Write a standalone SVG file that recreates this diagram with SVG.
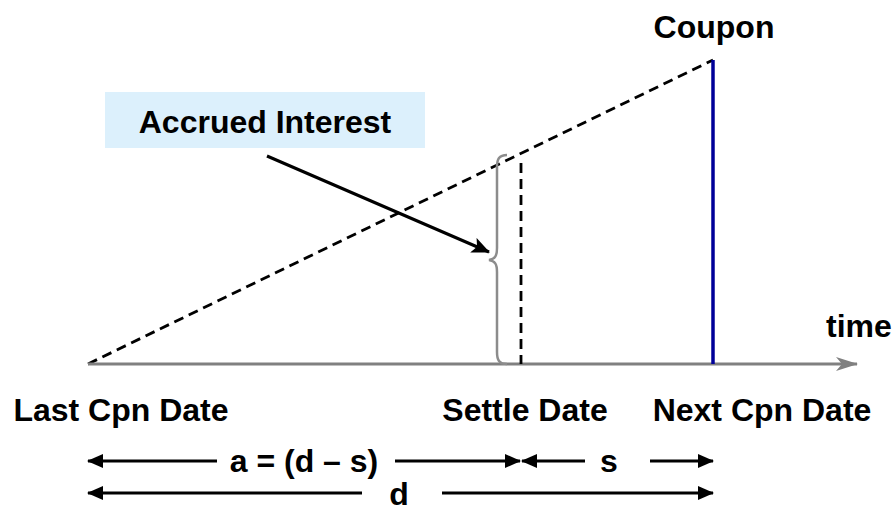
<svg xmlns="http://www.w3.org/2000/svg" width="894" height="517" viewBox="0 0 894 517">
  <style>
    .lbl { font-family: "Liberation Sans", Arial, sans-serif; font-weight: bold; font-size: 32px; fill: #000; }
    .dash { stroke: #000; stroke-width: 2.8; stroke-dasharray: 10 6; fill: none; }
    .dim { stroke: #000; stroke-width: 3; fill: none; }
  </style>
  <defs>
    <marker id="blk" viewBox="0 0 16 14" refX="15" refY="7" markerWidth="16" markerHeight="14" markerUnits="userSpaceOnUse" orient="auto-start-reverse">
      <path d="M0,0 L16,7 L0,14 Z" fill="#000"/>
    </marker>
    <marker id="ptr" viewBox="0 0 18 16" refX="17" refY="8" markerWidth="18" markerHeight="16" markerUnits="userSpaceOnUse" orient="auto">
      <path d="M0,0 L18,8 L0,16 L4,8 Z" fill="#000"/>
    </marker>
    <marker id="gry" viewBox="0 0 22 14" refX="21" refY="7" markerWidth="22" markerHeight="14" markerUnits="userSpaceOnUse" orient="auto">
      <path d="M0,0 L22,7 L0,14 L6,7 Z" fill="#808080"/>
    </marker>
  </defs>

  <!-- accrual ramp -->
  <g id="ramp">
    <line class="dash" x1="88" y1="364" x2="713" y2="60"/>
  </g>

  <!-- time axis -->
  <g id="axis">
    <line x1="88" y1="364" x2="857" y2="364" stroke="#808080" stroke-width="3" marker-end="url(#gry)"/>
    <text class="lbl" x="826" y="337">time</text>
  </g>

  <!-- coupon payment -->
  <g id="coupon">
    <line x1="713" y1="60" x2="713" y2="364" stroke="#000099" stroke-width="3.5"/>
    <text class="lbl" x="714" y="38" text-anchor="middle">Coupon</text>
  </g>

  <!-- settlement date marker -->
  <g id="settle">
    <line class="dash" x1="521" y1="163" x2="521" y2="364"/>
  </g>

  <!-- brace spanning the accrued amount -->
  <g id="brace">
    <path d="M507,155 C499,155 497,159 497,167 L497,248 C497,256 495,259 489,260 C495,261 497,264 497,272 L497,352 C497,360 499,364 507,364" fill="none" stroke="#8c8c8c" stroke-width="2.5"/>
  </g>

  <!-- callout -->
  <g id="callout">
    <rect x="105" y="92" width="320" height="56" fill="#dcf0fc"/>
    <text class="lbl" x="265" y="133" text-anchor="middle">Accrued Interest</text>
  </g>

  <g id="connectors">
    <line x1="267" y1="156" x2="489" y2="252" stroke="#000" stroke-width="3" marker-end="url(#ptr)"/>
  </g>

  <!-- date labels -->
  <g id="dates">
    <text class="lbl" x="121" y="421" text-anchor="middle">Last Cpn Date</text>
    <text class="lbl" x="525" y="421" text-anchor="middle">Settle Date</text>
    <text class="lbl" x="762" y="421" text-anchor="middle">Next Cpn Date</text>
  </g>

  <!-- interval dimensions -->
  <g id="dimensions">
    <line class="dim" x1="217" y1="461" x2="88" y2="461" marker-end="url(#blk)"/>
    <text class="lbl" x="304" y="472" text-anchor="middle">a = (d – s)</text>
    <line class="dim" x1="395" y1="461" x2="520" y2="461" marker-end="url(#blk)"/>
    <line class="dim" x1="585" y1="461" x2="522" y2="461" marker-end="url(#blk)"/>
    <text class="lbl" x="609" y="472" text-anchor="middle">s</text>
    <line class="dim" x1="650" y1="461" x2="713" y2="461" marker-end="url(#blk)"/>

    <line class="dim" x1="362" y1="493" x2="88" y2="493" marker-end="url(#blk)"/>
    <text class="lbl" x="399" y="505" text-anchor="middle">d</text>
    <line class="dim" x1="442" y1="493" x2="713" y2="493" marker-end="url(#blk)"/>
  </g>
</svg>
